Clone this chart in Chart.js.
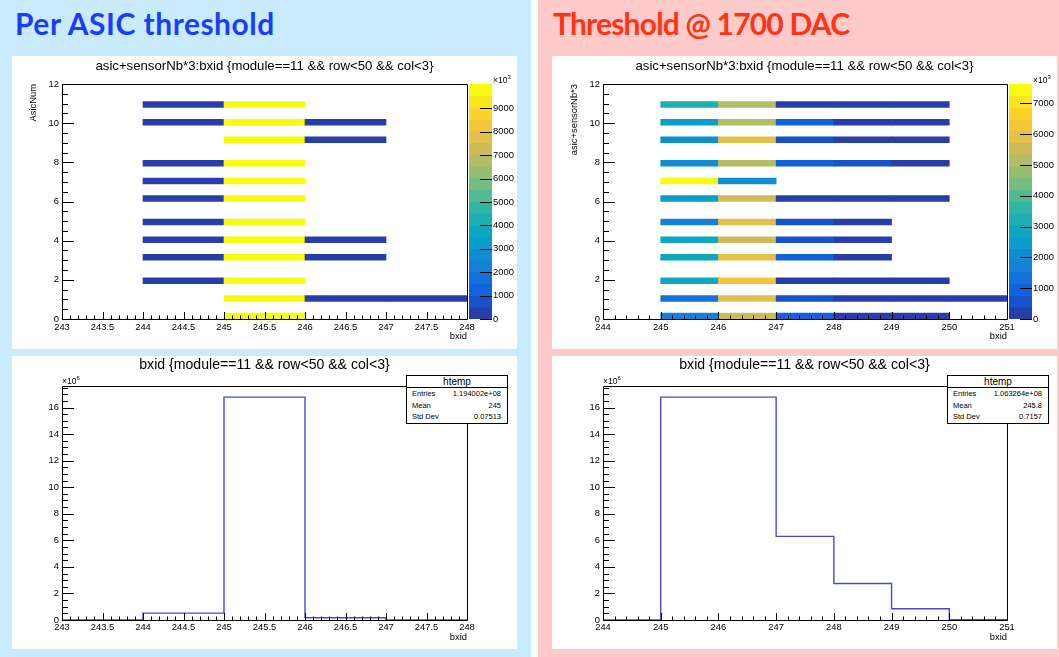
<!DOCTYPE html>
<html>
<head>
<meta charset="utf-8">
<script src="https://cdn.jsdelivr.net/npm/chart.js@4.4.1/dist/chart.umd.min.js"></script>
<style>
  body { margin: 0; width: 1059px; height: 657px; position: relative; overflow: hidden; background: #fff;
         font-family: "Liberation Sans", Arial, sans-serif; }
  .panel { position: absolute; top: 0; height: 657px; }
  #pl { left: 0; width: 531px; background: #c8ecfd; }
  #pr { left: 538px; width: 521px; background: #ffcaca; }
  .head { position: absolute; left: 15px; top: 4.5px; font: 700 30px Lato, sans-serif; white-space: nowrap; }
  #pl .head { color: #1b3cff; letter-spacing: 0.5px; }
  #pr .head { color: #ff3414; letter-spacing: -0.8px; }
  .box { position: absolute; width: 505px; height: 293px; background: #fff; }
  .box canvas { position: absolute; left: 0; top: 0; }
  .exp { position: absolute; font-size: 8.5px; color: #000; white-space: nowrap; }
  .exp sup { font-size: 6px; vertical-align: 4px; line-height: 0; }
  .stats { position: absolute; width: 100px; border: 1px solid #000; background: #fff; color: #000; }
  .stats .hd { height: 11px; line-height: 11px; font-size: 10px; text-align: center; border-bottom: 1px solid #000; }
  .stats .row { height: 11.6px; line-height: 11.6px; font-size: 7.5px; padding: 0 6px 0 5px; display: flex; justify-content: space-between; }
</style>
</head>
<body>
<div class="panel" id="pl">
  <div class="head">Per ASIC threshold</div>
</div>
<div class="panel" id="pr">
  <div class="head">Threshold @ 1700 DAC</div>
</div>

<div class="box" style="left:12px;top:56px">
  <canvas id="mapL" width="505" height="293"></canvas>
  <canvas id="palL" width="505" height="293"></canvas>
  <div class="exp" style="left:481px;top:19px">×10<sup>3</sup></div>
</div>
<div class="box" style="left:12px;top:356px">
  <canvas id="histL" width="505" height="293"></canvas>
  <div class="exp" style="left:50px;top:20px">×10<sup>6</sup></div>
  <div class="stats" id="statsL" style="left:394px;top:19px"></div>
</div>
<div class="box" style="left:552px;top:56px">
  <canvas id="mapR" width="505" height="293"></canvas>
  <canvas id="palR" width="505" height="293"></canvas>
  <div class="exp" style="left:481px;top:19px">×10<sup>3</sup></div>
</div>
<div class="box" style="left:552px;top:356px">
  <canvas id="histR" width="505" height="293"></canvas>
  <div class="exp" style="left:51px;top:20px">×10<sup>6</sup></div>
  <div class="stats" id="statsR" style="left:395px;top:19px"></div>
</div>

<script>
// ---- data ----
const mapTitle = 'asic+sensorNb*3:bxid {module==11 && row<50 && col<3}';
const histTitle = 'bxid {module==11 && row<50 && col<3}';

// y value of each row (asic+sensorNb*3), 0..11
const asicNum = [0, 1, 2, 3, 4, 5, 6, 7, 8, 9, 10, 11];

// per ASIC threshold: cell contents (x10^3 entries), rows = asicNum, columns = bxid bins
const bxLeft = [243, 244, 245, 246, 247];
const cellsLeft = [
  [0, 0, 9910, 0, 0],
  [0, 0, 9870, 36, 5],
  [0, 58, 9840, 0, 0],
  [0, 58, 9900, 34, 0],
  [0, 57, 9950, 33, 0],
  [0, 59, 9820, 0, 0],
  [0, 58, 9890, 0, 0],
  [0, 57, 10040, 0, 0],
  [0, 58, 9860, 0, 0],
  [0, 0, 9930, 35, 0],
  [0, 57, 9880, 34, 0],
  [0, 58, 9910, 0, 0]
];
const zMaxLeft = 10040;

// threshold @ 1700 DAC
const bxRight = [244, 245, 246, 247, 248, 249, 250];
const cellsRight = [
  [0, 1700, 5530, 800, 220, 105, 0],
  [0, 1330, 5900, 560, 220, 110, 20],
  [0, 2860, 6300, 300, 220, 105, 0],
  [0, 2860, 5900, 820, 230, 0, 0],
  [0, 2860, 5530, 560, 220, 0, 0],
  [0, 1700, 5900, 550, 230, 0, 0],
  [0, 2480, 5530, 290, 220, 105, 0],
  [0, 7630, 2100, 0, 0, 0, 0],
  [0, 2100, 5150, 800, 500, 110, 0],
  [0, 2100, 5900, 560, 230, 110, 0],
  [0, 2480, 5150, 820, 220, 105, 0],
  [0, 3240, 5150, 300, 220, 100, 0]
];
const zMaxRight = 7630;

// 1D bxid histograms (x10^6 entries per bin)
const histEdgesLeft = [243, 244, 245, 246, 247, 248];
const histLeft = [0, 0.52, 16.78, 0.17, 0.005];
const histEdgesRight = [244, 245, 246, 247, 248, 249, 250, 251];
const histRight = [0, 16.78, 16.78, 6.3, 2.75, 0.85, 0.02];
const histMax = 17.62;

const statLabels = ['Entries', 'Mean', 'Std Dev'];
const statsLeft = ['1.194002e+08', '245', '0.07513'];
const statsRight = ['1.063264e+08', '245.8', '0.7157'];

// y binning of the 2D plots and palette contours
const yMin = 0, yMax = 12, nYBins = 40;
const nLevels = 20;
const zStep = 1000;

// ROOT kBird palette
const birdStops = [0, 0.125, 0.25, 0.375, 0.5, 0.625, 0.75, 0.875, 1];
const birdR = [0.2082, 0.0592, 0.0780, 0.0232, 0.1802, 0.5301, 0.8186, 0.9956, 0.9764];
const birdG = [0.1664, 0.3599, 0.5041, 0.6419, 0.7178, 0.7492, 0.7328, 0.7862, 0.9832];
const birdB = [0.5293, 0.8684, 0.8385, 0.7914, 0.6425, 0.4662, 0.3499, 0.1968, 0.0539];

function bird(t) {
  let k = 0;
  while (k < birdStops.length - 2 && t > birdStops[k + 1]) k++;
  const f = (t - birdStops[k]) / (birdStops[k + 1] - birdStops[k]);
  const c = a => Math.round(255 * (a[k] + f * (a[k + 1] - a[k])));
  return `rgb(${c(birdR)},${c(birdG)},${c(birdB)})`;
}
function levelColor(v, zMax) {
  const i = Math.min(nLevels - 1, Math.floor(v / zMax * nLevels));
  return bird((i + 0.99) / nLevels);
}

const dy = (yMax - yMin) / nYBins;
function binCenter(v) {
  return yMin + (Math.floor((v - yMin) / dy + 1e-9) + 0.5) * dy;
}
const yBinCenters = [];
for (let k = 0; k < nYBins; k++) yBinCenters.push(yMin + (k + 0.5) * dy);

Chart.defaults.font.family = '"Liberation Sans", Arial, sans-serif';
Chart.defaults.color = '#000';

const fmt = v => String(+v.toFixed(3));

// ROOT style frame and inward tick marks
function rootAxes(specs, frame) {
  return {
    id: 'rootAxes',
    afterDatasetsDraw(chart) {
      const { ctx, chartArea: a } = chart;
      ctx.save();
      ctx.strokeStyle = '#000';
      ctx.lineWidth = 1;
      ctx.beginPath();
      if (frame) {
        ctx.rect(Math.round(a.left) + 0.5, Math.round(a.top) + 0.5,
                 Math.round(a.right - a.left), Math.round(a.bottom - a.top));
      }
      specs.forEach(t => {
        const s = chart.scales[t.axis];
        let vals = [];
        if (t.fromScale) vals = s.ticks.map(k => k.value);
        else {
          const i0 = Math.ceil(s.min / t.step - 1e-6), i1 = Math.floor(s.max / t.step + 1e-6);
          for (let i = i0; i <= i1; i++) vals.push(i * t.step);
        }
        vals.forEach(v => {
          const p = Math.round(s.getPixelForValue(v)) + 0.5;
          if (t.axis === 'x') { ctx.moveTo(p, a.bottom); ctx.lineTo(p, a.bottom - t.len); }
          else if (t.side === 'right') { ctx.moveTo(a.right, p); ctx.lineTo(a.right - t.len, p); }
          else { ctx.moveTo(a.left, p); ctx.lineTo(a.left + t.len, p); }
        });
      });
      ctx.stroke();
      ctx.restore();
    }
  };
}

const axisFont = { size: 9.4 };

// empty right-hand axis that keeps the z palette room, so titles stay centred on the pad
const spacerAxis = {
  type: 'linear', position: 'right', display: true,
  grid: { display: false, drawTicks: false }, border: { display: false }, ticks: { display: false },
  afterFit: s => { s.width = 50; }
};

function mapChart(id, edges, cells, zMax, x0, x1, xStep, xMinor, yTitle, yWidth) {
  const pts = [], cols = [];
  asicNum.forEach((row, r) => {
    cells[r].forEach((v, j) => {
      if (v <= 0) return;
      pts.push({ y: binCenter(row), x: [edges[j], edges[j] + 1] });
      cols.push(levelColor(v, zMax));
    });
  });
  return new Chart(document.getElementById(id), {
    type: 'bar',
    data: {
      datasets: [
        { data: yBinCenters.map(c => ({ y: c, x: null })), backgroundColor: 'rgba(0,0,0,0)',
          borderWidth: 0, grouped: false, xAxisID: 'x', yAxisID: 'y' },
        { data: pts, backgroundColor: cols, borderWidth: 0, grouped: false,
          barPercentage: 1, categoryPercentage: 1, xAxisID: 'x', yAxisID: 'y' }
      ]
    },
    options: {
      indexAxis: 'y', responsive: false, animation: false, events: [],
      layout: { padding: 0 },
      plugins: {
        legend: { display: false }, tooltip: { enabled: false },
        title: { display: true, text: mapTitle, font: { size: 13.2, weight: 'normal' }, color: '#000',
                 padding: { top: 2, bottom: 10.2 } }
      },
      scales: {
        x: {
          type: 'linear', min: x0, max: x1, offset: false,
          grid: { display: false, drawTicks: false, offset: false }, border: { display: false },
          ticks: { stepSize: xStep, autoSkip: false, maxRotation: 0, padding: 2.4, font: axisFont, callback: fmt },
          title: { display: true, text: 'bxid', align: 'end', font: axisFont, padding: { top: 0, bottom: 7.4 } },
          afterFit: s => { s.height = 30; }
        },
        y: {
          type: 'linear', min: yMin, max: yMax, offset: false,
          grid: { display: false, drawTicks: false, offset: false }, border: { display: false },
          ticks: { stepSize: 2, autoSkip: false, padding: 3, font: axisFont, callback: fmt },
          title: { display: true, text: yTitle, align: 'end', font: axisFont, padding: { top: yWidth - 34.6, bottom: 0 } },
          afterFit: s => { s.width = yWidth; }
        },
        r: spacerAxis
      }
    },
    plugins: [rootAxes([
      { axis: 'x', step: xMinor, len: 3.5 }, { axis: 'x', step: xStep, len: 7 },
      { axis: 'y', step: 0.5, len: 6 }, { axis: 'y', step: 2, len: 12 }
    ], true)]
  });
}

function paletteChart(id, zMax) {
  const bands = [], cols = [];
  for (let i = 0; i < nLevels; i++) {
    bands.push({ y: (i + 0.5) * zMax / nLevels, x: [0, 1] });
    cols.push(bird((i + 0.99) / nLevels));
  }
  return new Chart(document.getElementById(id), {
    type: 'bar',
    data: { datasets: [{ data: bands, backgroundColor: cols, borderWidth: 0, grouped: false,
                         barPercentage: 1, categoryPercentage: 1 }] },
    options: {
      indexAxis: 'y', responsive: false, animation: false, events: [],
      layout: { padding: { left: 457, right: 0, top: 28, bottom: 30 } },
      plugins: { legend: { display: false }, tooltip: { enabled: false } },
      scales: {
        x: { type: 'linear', min: 0, max: 1, display: false, offset: false },
        y: {
          type: 'linear', position: 'right', min: 0, max: zMax, offset: false,
          grid: { display: false, drawTicks: false, offset: false }, border: { display: false },
          ticks: { autoSkip: false, padding: 1, font: axisFont, callback: v => String(v) },
          // labels every zStep, none squeezed against the top of the palette
          afterBuildTicks: s => {
            const t = [];
            for (let v = 0; v <= s.max - 0.2 * zStep; v += zStep) t.push({ value: v });
            s.ticks = t;
          },
          afterFit: s => { s.width = 25; }
        }
      }
    },
    plugins: [rootAxes([{ axis: 'y', fromScale: true, len: 12, side: 'right' }], false)]
  });
}

function histChart(id, edges, counts, xStep, xMinor, yWidth) {
  const pts = [{ x: edges[0], y: 0 }];
  counts.forEach((c, i) => pts.push({ x: edges[i], y: c }));
  pts.push({ x: edges[edges.length - 1], y: 0 });
  return new Chart(document.getElementById(id), {
    type: 'line',
    data: { datasets: [{ data: pts, stepped: 'before', borderColor: '#4848dc', borderWidth: 1.4,
                         pointRadius: 0, fill: false, tension: 0, xAxisID: 'x', yAxisID: 'y' }] },
    options: {
      responsive: false, animation: false, events: [],
      layout: { padding: 0 },
      plugins: {
        legend: { display: false }, tooltip: { enabled: false },
        title: { display: true, text: histTitle, font: { size: 14.1, weight: 'normal' }, color: '#000',
                 padding: { top: 0.5, bottom: 12.6 } }
      },
      scales: {
        x: {
          type: 'linear', min: edges[0], max: edges[edges.length - 1], offset: false,
          grid: { display: false, drawTicks: false }, border: { display: false },
          ticks: { stepSize: xStep, autoSkip: false, maxRotation: 0, padding: 1.4, font: axisFont, callback: fmt },
          title: { display: true, text: 'bxid', align: 'end', font: axisFont, padding: { top: 0, bottom: 5.7 } },
          afterFit: s => { s.height = 29; }
        },
        y: {
          type: 'linear', min: 0, max: histMax,
          grid: { display: false, drawTicks: false }, border: { display: false },
          ticks: { stepSize: 2, includeBounds: false, autoSkip: false, padding: 3, font: axisFont,
                   callback: v => (Math.abs(v % 2) < 1e-9 ? String(v) : '') },
          afterFit: s => { s.width = yWidth; }
        },
        r: spacerAxis
      }
    },
    plugins: [rootAxes([
      { axis: 'x', step: xMinor, len: 3.5 }, { axis: 'x', step: xStep, len: 7 },
      { axis: 'y', step: 0.5, len: 6 }, { axis: 'y', step: 2, len: 12 }
    ], true)]
  });
}

function fillStats(id, vals) {
  const el = document.getElementById(id);
  let html = '<div class="hd">htemp</div>';
  statLabels.forEach((l, i) => { html += `<div class="row"><span>${l}</span><span>${vals[i]}</span></div>`; });
  el.innerHTML = html;
}

mapChart('mapL', bxLeft, cellsLeft, zMaxLeft, 243, 248, 0.5, 0.1, 'AsicNum', 50);
paletteChart('palL', zMaxLeft);
mapChart('mapR', bxRight, cellsRight, zMaxRight, 244, 251, 1, 0.2, 'asic+sensorNb*3', 51);
paletteChart('palR', zMaxRight);
histChart('histL', histEdgesLeft, histLeft, 0.5, 0.1, 50);
histChart('histR', histEdgesRight, histRight, 1, 0.2, 51);
fillStats('statsL', statsLeft);
fillStats('statsR', statsRight);
</script>
</body>
</html>
